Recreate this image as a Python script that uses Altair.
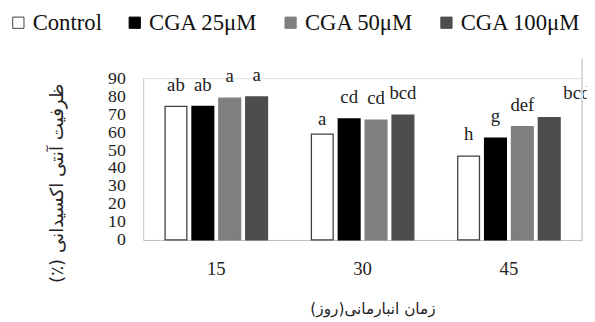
import altair as alt
import pandas as pd

days = ["15", "30", "45"]
treatments = ["Control", "CGA 25μM", "CGA 50μM", "CGA 100μM"]
values = {
    "15": [74.3, 74.3, 78.9, 79.6],
    "30": [58.9, 67.3, 66.6, 69.5],
    "45": [46.6, 56.7, 63.1, 68.0],
}
letters = {
    "15": ["ab", "ab", "a", "a"],
    "30": ["a", "cd", "cd", "bcd"],
    "45": ["h", "g", "def", "bcd"],
}
fills = ["#ffffff", "#000000", "#7f7f7f", "#4d4d4d"]
strokes = ["#404040", "#000000", "#7f7f7f", "#4d4d4d"]

RLM = "\u200f"
x_title = RLM + "زمان انبارمانی(روز)" + RLM
y_title = RLM + "ظرفیت آنتی اکسیدانی (٪)" + RLM

rows = []
for d in days:
    for i, t in enumerate(treatments):
        rows.append({"day": d, "treatment": t, "value": values[d][i], "letter": letters[d][i],
                     "key": d + "|" + t})
df = pd.DataFrame(rows)

W, H = 445, 164
serif = "Liberation Serif, Times New Roman, DejaVu Serif, serif"
fa = "DejaVu Sans"

x_enc = alt.X("day:N", sort=days,
              scale=alt.Scale(paddingInner=0.3, paddingOuter=0.15),
              axis=alt.Axis(title=x_title, labelAngle=0, ticks=False,
                            domainColor="#bfbfbf", labelFont=serif, labelFontSize=19,
                            labelColor="#222222", labelPadding=20,
                            titleFont=fa, titleFontSize=15.5, titleFontWeight="normal",
                            titleColor="#222222", titlePadding=24, titleX=W / 2 + 10))
xo_enc = alt.XOffset("treatment:N", sort=treatments,
                     scale=alt.Scale(paddingInner=0.19, paddingOuter=0))
y_enc = alt.Y("value:Q", scale=alt.Scale(domain=[0, 90], nice=False),
              axis=alt.Axis(values=list(range(0, 91, 10)), grid=False, ticks=False,
                            labelOverlap=False, labelBound=False,
                            domainColor="#d0d0d0", labelFont=serif, labelFontSize=18,
                            labelColor="#222222", labelPadding=18,
                            title=y_title, titleFont=fa,
                            titleFontSize=18.5, titleFontWeight="normal", titleColor="#222222",
                            titleAngle=270, titleX=-88, titleY=106,
                            titleAlign="center", titleBaseline="middle"))

base = alt.Chart(df).encode(x=x_enc, xOffset=xo_enc, y=y_enc)

leg = dict(title=None, orient="none", legendX=-138, legendY=-68,
           direction="horizontal", symbolType="square",
           symbolSize=130, symbolStrokeWidth=1,
           labelFont=serif, labelFontSize=23, labelColor="#111111",
           labelOffset=3, columnPadding=21, labelLimit=300)

bars = base.mark_bar(strokeWidth=1.3).encode(
    fill=alt.Fill("treatment:N", sort=treatments,
                  scale=alt.Scale(domain=treatments, range=fills),
                  legend=alt.Legend(**leg)),
    stroke=alt.Stroke("treatment:N", sort=treatments,
                      scale=alt.Scale(domain=treatments, range=strokes),
                      legend=alt.Legend(**leg)),
)

txt_kw = dict(font=serif, fontSize=19, baseline="alphabetic", color="#222222")
normal = ~alt.FieldOneOfPredicate(field="key", oneOf=["30|Control", "45|CGA 100μM"])
labels = base.mark_text(dy=-16, **txt_kw).encode(text="letter:N").transform_filter(normal)
lab_a = base.mark_text(dy=-9, **txt_kw).encode(text="letter:N").transform_filter(
    alt.FieldEqualPredicate(field="key", equal="30|Control"))
lab_bcd = base.mark_text(dy=-19, dx=28, **txt_kw).encode(text="letter:N").transform_filter(
    alt.FieldEqualPredicate(field="key", equal="45|CGA 100μM"))

frame = alt.Chart(df).mark_rule(color="#d9d9d9", strokeWidth=1).encode(
    x=alt.value(W), y=alt.value(-20), y2=alt.value(H))

chart = alt.layer(bars, labels, lab_a, lab_bcd, frame).properties(
    width=W, height=H,
    autosize=alt.AutoSizeParams(type="none"),
    padding={"left": 137, "top": 69, "right": 5, "bottom": 81},
).configure_view(stroke=None).configure(background="white")

chart.save("out.html", embed_options={"renderer": "svg", "actions": False})
